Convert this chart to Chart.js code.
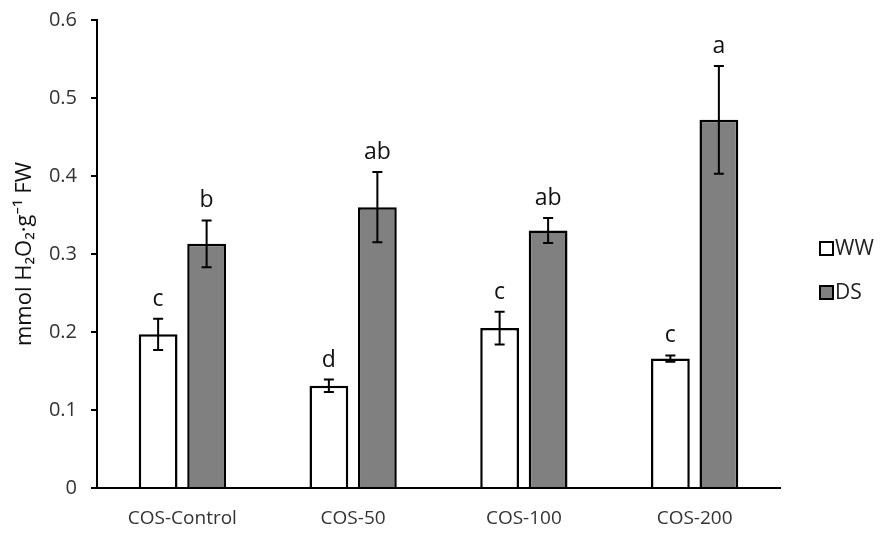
<!DOCTYPE html>
<html>
<head>
<meta charset="utf-8">
<script src="https://cdn.jsdelivr.net/npm/chart.js@4.4.1/dist/chart.umd.min.js"></script>
<style>
html,body{margin:0;padding:0;background:#fff;}
#wrap{width:886px;height:545px;position:relative;}
</style>
</head>
<body>
<div id="wrap"><canvas id="c" width="886" height="545"></canvas></div>
<script>
const categories = ['COS-Control', 'COS-50', 'COS-100', 'COS-200'];
const wwValues = [0.197, 0.131, 0.205, 0.166];
const wwErrors = [0.020, 0.008, 0.021, 0.004];
const dsValues = [0.313, 0.360, 0.330, 0.472];
const dsErrors = [0.030, 0.045, 0.016, 0.069];
const wwLetters = ['c', 'd', 'c', 'c'];
const dsLetters = ['b', 'ab', 'ab', 'a'];
const seriesNames = ['WW', 'DS'];
const yTicks = [0, 0.1, 0.2, 0.3, 0.4, 0.5, 0.6];

const FONT = '"Open Sans", "Noto Sans", "DejaVu Sans", sans-serif';

const errorPlugin = {
  id: 'errs',
  afterDatasetsDraw(chart) {
    const ctx = chart.ctx;
    const y = chart.scales.y;
    const sets = [[wwErrors, wwLetters], [dsErrors, dsLetters]];
    ctx.save();
    chart.data.datasets.forEach((ds, di) => {
      const meta = chart.getDatasetMeta(di);
      const errs = sets[di][0], lets = sets[di][1];
      meta.data.forEach((bar, i) => {
        const v = ds.data[i];
        const yt = y.getPixelForValue(v + errs[i]);
        const yb = y.getPixelForValue(v - errs[i]);
        const x = bar.x;
        ctx.strokeStyle = '#000';
        ctx.lineWidth = 2;
        ctx.beginPath();
        ctx.moveTo(x, yt); ctx.lineTo(x, yb);
        ctx.moveTo(x - 5, yt); ctx.lineTo(x + 5, yt);
        ctx.moveTo(x - 5, yb); ctx.lineTo(x + 5, yb);
        ctx.stroke();
        ctx.fillStyle = '#111';
        ctx.font = '23px ' + FONT;
        ctx.textAlign = 'center';
        ctx.textBaseline = 'alphabetic';
        ctx.fillText(lets[i], x, yt - 13);
      });
    });
    // legend
    const lx = 820, ly = [248, 292];
    chart.data.datasets.forEach((ds, di) => {
      ctx.fillStyle = ds.backgroundColor;
      ctx.strokeStyle = '#000';
      ctx.lineWidth = 2;
      ctx.fillRect(lx, ly[di] - 6, 13, 13);
      ctx.strokeRect(lx, ly[di] - 6, 13, 13);
      ctx.fillStyle = '#222';
      ctx.font = '21px ' + FONT;
      ctx.textAlign = 'left';
      ctx.textBaseline = 'middle';
      ctx.fillText(ds.label, lx + 15, ly[di] + 1);
    });
    ctx.restore();
  }
};

new Chart(document.getElementById('c'), {
  type: 'bar',
  data: {
    labels: categories,
    datasets: [
      { label: seriesNames[0], data: wwValues, backgroundColor: '#ffffff', borderColor: '#000', borderWidth: 2.5, borderSkipped: 'bottom' },
      { label: seriesNames[1], data: dsValues, backgroundColor: '#808080', borderColor: '#000', borderWidth: 2.5, borderSkipped: 'bottom' }
    ]
  },
  options: {
    responsive: false,
    animation: false,
    devicePixelRatio: 1,
    categoryPercentage: 0.568,
    barPercentage: 0.8,
    layout: { padding: { top: 20, right: 106, bottom: 0, left: 0 } },
    plugins: { legend: { display: false }, tooltip: { enabled: false } },
    scales: {
      x: {
        grid: { display: false, drawTicks: false },
        border: { color: '#000', width: 2 },
        ticks: { color: '#333', font: { family: FONT, size: 19 }, padding: 19, maxRotation: 0 },
        afterFit(s) { s.height = 57; s.paddingLeft = 0; s.paddingRight = 0; }
      },
      y: {
        min: 0, max: 0.6,
        afterBuildTicks(s) { s.ticks = yTicks.map(v => ({ value: v })); },
        grid: { drawOnChartArea: false, drawTicks: true, tickLength: 6, color: '#000', lineWidth: 2 },
        border: { color: '#000', width: 2 },
        ticks: { color: '#333', font: { family: FONT, size: 20 }, padding: 14,
          callback: v => v === 0 ? '0' : v.toFixed(1) },
        title: { display: true, text: 'mmol H₂O₂·g⁻¹ FW', color: '#111', font: { family: FONT, size: 22 }, padding: { top: 12, bottom: 0 } },
        afterFit(s) { s.width = 97; s.paddingTop = 0; s.paddingBottom = 0; }
      }
    }
  },
  plugins: [errorPlugin]
});
</script>
</body>
</html>
